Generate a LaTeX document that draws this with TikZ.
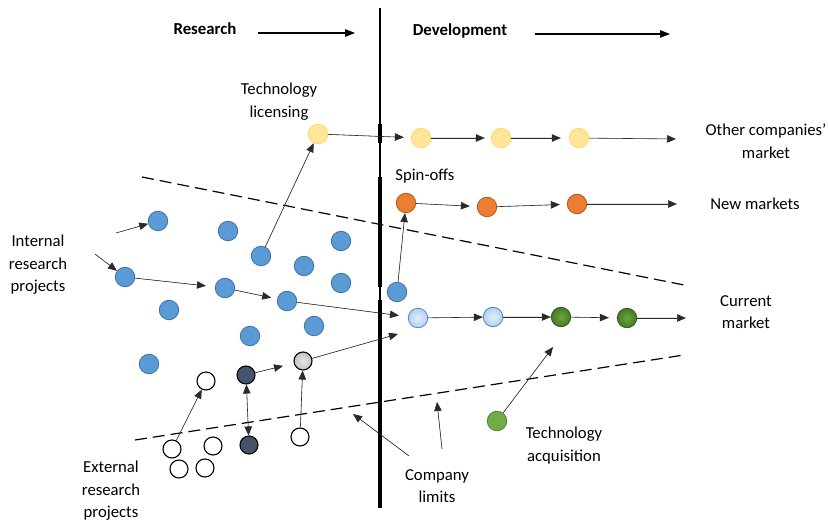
\documentclass[tikz,border=0pt]{standalone}
\usepackage{fontspec}
\setmainfont{Carlito}
\usetikzlibrary{arrows.meta}
\definecolor{blueF}{HTML}{5B9BD5}
\definecolor{blueD}{HTML}{41719C}
\definecolor{yelF}{HTML}{FFE699}
\definecolor{yelD}{HTML}{FFD966}
\definecolor{oraF}{HTML}{ED7D31}
\definecolor{oraD}{HTML}{AE5A21}
\definecolor{lbIn}{HTML}{E3EEFA}
\definecolor{lbOut}{HTML}{B4D0F0}
\definecolor{lbD}{HTML}{4A86C5}
\definecolor{grIn}{HTML}{6AA53F}
\definecolor{grOut}{HTML}{467A28}
\definecolor{grD}{HTML}{385723}
\definecolor{acqF}{HTML}{70AD47}
\definecolor{acqD}{HTML}{507E32}
\definecolor{darkF}{HTML}{44546A}
\definecolor{gyIn}{HTML}{E6E7EA}
\definecolor{gyOut}{HTML}{BFC3C9}
\definecolor{lineG}{HTML}{2A2A2A}
\begin{document}
\begin{tikzpicture}[x=1pt,y=-1pt,
  dot/.style={circle,minimum size=19.5pt,inner sep=0pt,line width=0.8pt},
  bdot/.style={dot,fill=blueF,draw=blueD},
  ydot/.style={dot,fill=yelF,draw=yelD},
  odot/.style={dot,fill=oraF,draw=oraD},
  lbdot/.style={dot,inner color=lbIn,outer color=lbOut,draw=lbD},
  gdot/.style={dot,inner color=grIn,outer color=grOut,draw=grD},
  adot/.style={dot,fill=acqF,draw=acqD},
  wdot/.style={dot,fill=white,draw=black,line width=1.1pt,minimum size=18pt},
  ddot/.style={dot,fill=darkF,draw=black,line width=1.1pt,minimum size=18pt},
  gydot/.style={dot,inner color=gyIn,outer color=gyOut,draw=black,line width=1.1pt,minimum size=18pt},
  arr/.style={-{Triangle[length=9pt,width=7.5pt]},line width=0.6pt,draw=lineG,fill=black},
  darr/.style={{Triangle[length=9pt,width=7.5pt]}-{Triangle[length=9pt,width=7.5pt]},line width=0.6pt,draw=lineG,fill=black},
  bigarr/.style={-{Triangle[length=10pt,width=7.5pt]},line width=1.1pt},
  lbl/.style={font=\fontsize{16.7}{22.5}\selectfont,align=center,inner sep=0pt},
  ttl/.style={font=\bfseries\fontsize{16.8}{18}\selectfont,inner sep=0pt},
  limit/.style={line width=1.2pt,dash pattern=on 12pt off 6pt}
]
\useasboundingbox (0,0) rectangle (828,521);

% central divider
\draw[line width=2.6pt] (380,8) -- (380,508);
\draw[line width=4pt] (380,124) -- (380,143);
\draw[line width=4pt] (380,177) -- (380,287);
\draw[line width=4pt] (380,300) -- (380,508);

% titles
\node[ttl] (research) at (205,29) {Research};
\node[ttl] (develop) at (460,31) {Development};
\coordinate (ra1) at (258,33);
\coordinate (ra2) at (355,33);
\coordinate (da1) at (535,34);
\coordinate (da2) at (670,34);
\draw[bigarr] (ra1) -- (ra2);
\draw[bigarr] (da1) -- (da2);

% company limits (dashed)
\coordinate (u1) at (142,177);
\coordinate (u2) at (684,285);
\coordinate (d1l) at (135,440);
\coordinate (d2l) at (684,355);
\draw[limit] (u1) -- (u2);
\draw[limit] (d1l) -- (d2l);

% labels
\node[lbl] (techlic) at (279,101.5) {Technology\\licensing};
\node[lbl] (othermk) at (766,141) {Other companies'\\market};
\node[lbl] (spin) at (425,176) {Spin-offs};
\node[lbl] (newmk) at (755,204) {New markets};
\node[lbl] (curmk) at (746,312) {Current\\market};
\node[lbl] (techacq) at (564,445.5) {Technology\\acquisition};
\node[lbl] (complim) at (437,486) {Company\\limits};
\node[lbl] (intern) at (38,265) {Internal\\research\\projects};
\node[lbl] (extern) at (111,491) {External\\research\\projects};

% yellow row
\node[ydot] (y1) at (318,134) {};
\node[ydot] (y2) at (421,138) {};
\node[ydot] (y3) at (501,138) {};
\node[ydot] (y4) at (579,138) {};
\coordinate (yend) at (676,139);
\draw[arr,shorten >=7pt] (y1) -- (y2);
\draw[arr,shorten >=6pt] (y2) -- (y3);
\draw[arr,shorten >=8pt] (y3) -- (y4);
\draw[arr] (y4) -- (yend);

% orange row
\node[odot] (o1) at (406,203) {};
\node[odot] (o2) at (487,207) {};
\node[odot] (o3) at (577,204) {};
\coordinate (oend) at (677,204);
\draw[arr,shorten >=7pt] (o1) -- (o2);
\draw[arr,shorten >=7pt] (o2) -- (o3);
\draw[arr] (o3) -- (oend);

% current market row
\node[lbdot] (l1) at (418,318) {};
\node[lbdot] (l2) at (493,317) {};
\node[gdot] (g1) at (561,317) {};
\node[gdot] (g2) at (627,318) {};
\coordinate (gend) at (686,318);
\draw[arr] (l1) -- (l2);
\draw[arr] (l2) -- (g1);
\draw[arr,shorten >=8pt] (g1) -- (g2);
\draw[arr] (g2) -- (gend);

% blue internal projects
\node[bdot] (b1) at (158,221) {};
\node[bdot] (b2) at (228,231) {};
\node[bdot] (b3) at (261,256) {};
\node[bdot] (b4) at (341,241) {};
\node[bdot] (b5) at (304,266) {};
\node[bdot] (b6) at (341,283) {};
\node[bdot] (b7) at (125,277) {};
\node[bdot] (b8) at (225,288) {};
\node[bdot] (b9) at (287,301) {};
\node[bdot] (b10) at (169,310) {};
\node[bdot] (b11) at (314,326) {};
\node[bdot] (b12) at (250,336) {};
\node[bdot] (b13) at (149,364) {};
\node[bdot] (b14) at (397,292) {};

\coordinate (i1) at (116,233);
\coordinate (i2) at (95,254);
\draw[arr] (i1) -- (b1);
\draw[arr] (i2) -- (b7);
\draw[arr,shorten >=9pt] (b7) -- (b8);
\draw[arr,shorten >=6pt] (b8) -- (b9);
\draw[arr,shorten >=9pt] (b9) -- (l1);
\draw[arr] (b3) -- (y1);
\draw[arr] (b14) -- (o1);

% external projects
\node[wdot] (w1) at (206,381) {};
\node[ddot] (k1) at (246,375) {};
\node[gydot] (gy) at (303,361) {};
\node[wdot] (w2) at (172,449) {};
\node[wdot] (w3) at (213,446) {};
\node[wdot] (w4) at (179,469) {};
\node[wdot] (w5) at (205,468) {};
\node[ddot] (k2) at (249,445) {};
\node[wdot] (w6) at (300,437) {};
\coordinate (gtip) at (398,334);
\draw[arr] (w2) -- (w1);
\draw[darr] (k1) -- (k2);
\draw[arr,shorten >=11pt] (k1) -- (gy);
\draw[arr] (w6) -- (gy);
\draw[arr] (gy) -- (gtip);

% technology acquisition
\node[adot] (ga) at (497,421) {};
\coordinate (gatip) at (553,347);
\draw[arr] (ga) -- (gatip);

% company limits pointers
\coordinate (cl1) at (409,456);
\coordinate (cl1t) at (353,414);
\coordinate (cl2) at (442,449);
\coordinate (cl2t) at (437,402);
\draw[arr] (cl1) -- (cl1t);
\draw[arr] (cl2) -- (cl2t);
\end{tikzpicture}
\end{document}
